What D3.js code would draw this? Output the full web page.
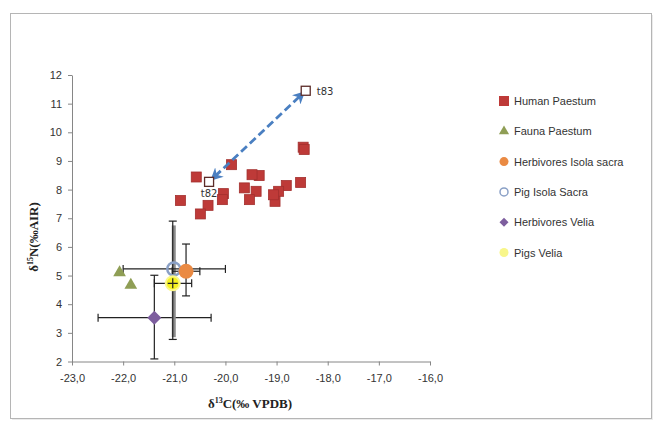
<!DOCTYPE html>
<html>
<head>
<meta charset="utf-8">
<script src="https://cdn.jsdelivr.net/npm/d3@7/dist/d3.min.js"></script>
<style>
  body { margin: 0; background: #fff; }
  svg { display: block; }
</style>
</head>
<body>
<div id="chart"></div>
<script>
// data
const humanX = [-18.48, -18.46, -18.53, -18.81, -18.96, -19.03, -19.06, -19.34, -19.48, -19.40, -19.53, -19.63, -19.88, -20.04, -20.06, -20.34, -20.49, -20.57, -20.88];
const humanY = [9.48, 9.40, 8.25, 8.14, 7.94, 7.59, 7.82, 8.49, 8.52, 7.94, 7.65, 8.06, 8.87, 7.86, 7.65, 7.45, 7.15, 8.44, 7.62];
const faunaX = [-22.07, -21.85];
const faunaY = [5.14, 4.70];
const tLabels = ["t82", "t83"];
const tX = [-20.32, -18.43];
const tY = [8.27, 11.45];

// mean points with error ranges [low, high]
const groupNames = ["Herbivores Velia", "Pig Isola Sacra", "Pigs Velia", "Herbivores Isola sacra"];
const groupX = [-21.39, -21.01, -21.03, -20.77];
const groupY = [3.53, 5.23, 4.73, 5.15];
const groupXRange = [[-22.49, -20.28], [-22.0, -20.0], [-21.39, -20.66], [-21.04, -20.5]];
const groupYRange = [[2.09, 5.01], [2.85, 6.75], [2.77, 6.90], [4.29, 6.10]];

const legendLabels = ["Human  Paestum", "Fauna Paestum", "Herbivores Isola sacra", "Pig Isola Sacra", "Herbivores Velia", "Pigs Velia"];
const xTicks = [-23, -22, -21, -20, -19, -18, -17, -16];
const yTicks = [2, 3, 4, 5, 6, 7, 8, 9, 10, 11, 12];

const W = 658, H = 427;
const svg = d3.select("#chart").append("svg").attr("width", W).attr("height", H);

// outer frame
svg.append("rect").attr("x", 12).attr("y", 15).attr("width", 641).attr("height", 405)
   .attr("fill", "#ddd").attr("opacity", 0.6);
svg.append("rect").attr("x", 10.5).attr("y", 13.5).attr("width", 641).attr("height", 405)
   .attr("fill", "#fff").attr("stroke", "#b5b5b5").attr("stroke-width", 1);

const xScale = d3.scaleLinear().domain([-23, -16]).range([72, 430]);
const yScale = d3.scaleLinear().domain([2, 12]).range([361.5, 75]);

const xAxis = d3.axisBottom(xScale).tickValues(xTicks).tickSize(4).tickSizeOuter(0)
  .tickFormat(d => d3.format(".1f")(d).replace("−", "-").replace(".", ","));
const yAxis = d3.axisLeft(yScale).tickValues(yTicks).tickSize(4).tickSizeOuter(0)
  .tickFormat(d3.format("d"));

const gx = svg.append("g").attr("transform", "translate(0," + yScale(2) + ")").call(xAxis);
const gy = svg.append("g").attr("transform", "translate(" + xScale(-23) + ",0)").call(yAxis);
[gx, gy].forEach(g => {
  g.select(".domain").attr("stroke", "#868686");
  g.selectAll(".tick line").attr("stroke", "#868686");
  g.selectAll("text").attr("fill", "#333").attr("font-family", "'Liberation Sans', Arial, sans-serif").attr("font-size", 11);
});
gx.selectAll("text").attr("dy", "1.2em");
gy.selectAll("text").attr("dx", "-3");

// axis titles
const xt = svg.append("text").attr("x", 250).attr("y", 408).attr("text-anchor", "middle")
  .attr("font-family", "'Liberation Serif', serif").attr("font-weight", "bold").attr("font-size", 13).attr("fill", "#222");
xt.append("tspan").text("δ");
xt.append("tspan").attr("font-size", 8).attr("dy", -5).text("13");
xt.append("tspan").attr("dy", 5).text("C(‰ VPDB)");

const yt = svg.append("text").attr("transform", "translate(38,237) rotate(-90)").attr("text-anchor", "middle")
  .attr("font-family", "'Liberation Serif', serif").attr("font-weight", "bold").attr("font-size", 13).attr("fill", "#222");
yt.append("tspan").text("δ");
yt.append("tspan").attr("font-size", 8).attr("dy", -5).text("15");
yt.append("tspan").attr("dy", 5).text("N(‰AIR)");

// error bars
const errG = svg.append("g");
groupNames.forEach((name, i) => {
  const cy = yScale(groupY[i]), cx = xScale(groupX[i]);
  const thick = name === "Pig Isola Sacra";
  const col = thick ? "#8c8c8c" : "#222";
  // vertical
  const y0 = yScale(groupYRange[i][0]), y1 = yScale(groupYRange[i][1]);
  errG.append("line").attr("x1", cx).attr("x2", cx).attr("y1", y0).attr("y2", y1)
    .attr("stroke", col).attr("stroke-width", thick ? 4 : 1.2);
  if (!thick) {
    [y0, y1].forEach(y => errG.append("line").attr("x1", cx - 4).attr("x2", cx + 4).attr("y1", y).attr("y2", y)
      .attr("stroke", col).attr("stroke-width", 1.2));
  }
  // horizontal
  const x0 = xScale(groupXRange[i][0]), x1 = xScale(groupXRange[i][1]);
  errG.append("line").attr("x1", x0).attr("x2", x1).attr("y1", cy).attr("y2", cy)
    .attr("stroke", "#222").attr("stroke-width", 1.2);
  [x0, x1].forEach(x => errG.append("line").attr("x1", x).attr("x2", x).attr("y1", cy - 4).attr("y2", cy + 4)
    .attr("stroke", "#222").attr("stroke-width", 1.2));
});

// human squares
svg.append("g").selectAll("rect").data(humanX).enter().append("rect")
  .attr("x", (d, i) => xScale(d) - 5).attr("y", (d, i) => yScale(humanY[i]) - 5)
  .attr("width", 10).attr("height", 10)
  .attr("fill", "#be3a38").attr("stroke", "#a3302e").attr("stroke-width", 0.8);

// fauna triangles
const tri = d3.symbol().type(d3.symbolTriangle).size(70);
svg.append("g").selectAll("path").data(faunaX).enter().append("path")
  .attr("d", tri)
  .attr("transform", (d, i) => "translate(" + xScale(d) + "," + (yScale(faunaY[i]) + 1) + ")")
  .attr("fill", "#8f9e55");

// square diamond like excel's marker
const diamond = r => "M0," + (-r) + "L" + r + ",0L0," + r + "L" + (-r) + ",0Z";

// group markers
const markerStyle = {
  "Herbivores Velia": p => p.append("path").attr("d", diamond(7)).attr("fill", "#7d5e9e"),
  "Pig Isola Sacra": p => p.append("circle").attr("r", 6.5).attr("fill", "none").attr("stroke", "#8aa0c6").attr("stroke-width", 2.5),
  "Pigs Velia": p => p.append("circle").attr("r", 7).attr("fill", "#f6f222").attr("stroke", "#fbf88a").attr("stroke-width", 2),
  "Herbivores Isola sacra": p => p.append("circle").attr("r", 7.5).attr("fill", "#ea8a43")
};
groupNames.forEach((name, i) => {
  const g = svg.append("g").attr("transform", "translate(" + xScale(groupX[i]) + "," + yScale(groupY[i]) + ")");
  markerStyle[name](g);
});
// cross through pigs velia (error bars visible over marker)
const pv = groupNames.indexOf("Pigs Velia");
svg.append("path")
  .attr("d", "M" + (xScale(groupX[pv]) - 5) + "," + yScale(groupY[pv]) + "h10M" + xScale(groupX[pv]) + "," + (yScale(groupY[pv]) - 5) + "v10")
  .attr("stroke", "#222").attr("stroke-width", 1.2);

// t82 -> t83 arrow
const defs = svg.append("defs");
["start", "end"].forEach(k => {
  defs.append("marker").attr("id", "ah-" + k).attr("viewBox", "0 0 10 10")
    .attr("refX", 5).attr("refY", 5).attr("markerWidth", 4.5).attr("markerHeight", 4.5)
    .attr("orient", k === "end" ? "auto" : "auto-start-reverse")
    .append("path").attr("d", "M0,0L10,5L0,10L3,5Z").attr("fill", "#4a7fc1");
});
const ax0 = xScale(tX[0]), ay0 = yScale(tY[0]), ax1 = xScale(tX[1]), ay1 = yScale(tY[1]);
const len = Math.hypot(ax1 - ax0, ay1 - ay0), ux = (ax1 - ax0) / len, uy = (ay1 - ay0) / len;
svg.append("line")
  .attr("x1", ax0 + ux * 8).attr("y1", ay0 + uy * 8)
  .attr("x2", ax1 - ux * 7).attr("y2", ay1 - uy * 7)
  .attr("stroke", "#4a7fc1").attr("stroke-width", 2.8).attr("stroke-dasharray", "8,4")
  .attr("marker-start", "url(#ah-start)").attr("marker-end", "url(#ah-end)");

// hollow t squares with labels
tX.forEach((x, i) => {
  svg.append("rect").attr("x", xScale(x) - 4.5).attr("y", yScale(tY[i]) - 4.5).attr("width", 9).attr("height", 9)
    .attr("fill", "#fff").attr("stroke", "#5b2b28").attr("stroke-width", 1.3);
  const lbl = svg.append("text").attr("font-family", "'DejaVu Sans', sans-serif").attr("font-size", 10).attr("fill", "#333").text(tLabels[i]);
  if (i === 0) lbl.attr("x", xScale(x)).attr("y", yScale(tY[i]) + 15).attr("text-anchor", "middle");
  else lbl.attr("x", xScale(x) + 11).attr("y", yScale(tY[i]) + 4);
});

// legend
const leg = svg.append("g").selectAll("g").data(legendLabels).enter().append("g")
  .attr("transform", (d, i) => "translate(504," + (101 + i * 30.3) + ")");
const legMarks = [
  g => g.append("rect").attr("x", -5).attr("y", -5).attr("width", 10).attr("height", 10).attr("fill", "#be3a38"),
  g => g.append("path").attr("d", d3.symbol().type(d3.symbolTriangle).size(45)).attr("fill", "#8f9e55"),
  g => g.append("circle").attr("r", 4.5).attr("fill", "#ea8a43"),
  g => g.append("circle").attr("r", 4).attr("fill", "none").attr("stroke", "#8aa0c6").attr("stroke-width", 1.5),
  g => g.append("path").attr("d", diamond(4.5)).attr("fill", "#7d5e9e"),
  g => g.append("circle").attr("r", 4.5).attr("fill", "#f8f68a")
];
leg.each(function(d, i) { legMarks[i](d3.select(this)); });
leg.append("text").attr("x", 10).attr("y", 4).attr("font-family", "'Liberation Sans', Arial, sans-serif")
  .attr("font-size", 11).attr("fill", "#333").text(d => d);
</script>
</body>
</html>
